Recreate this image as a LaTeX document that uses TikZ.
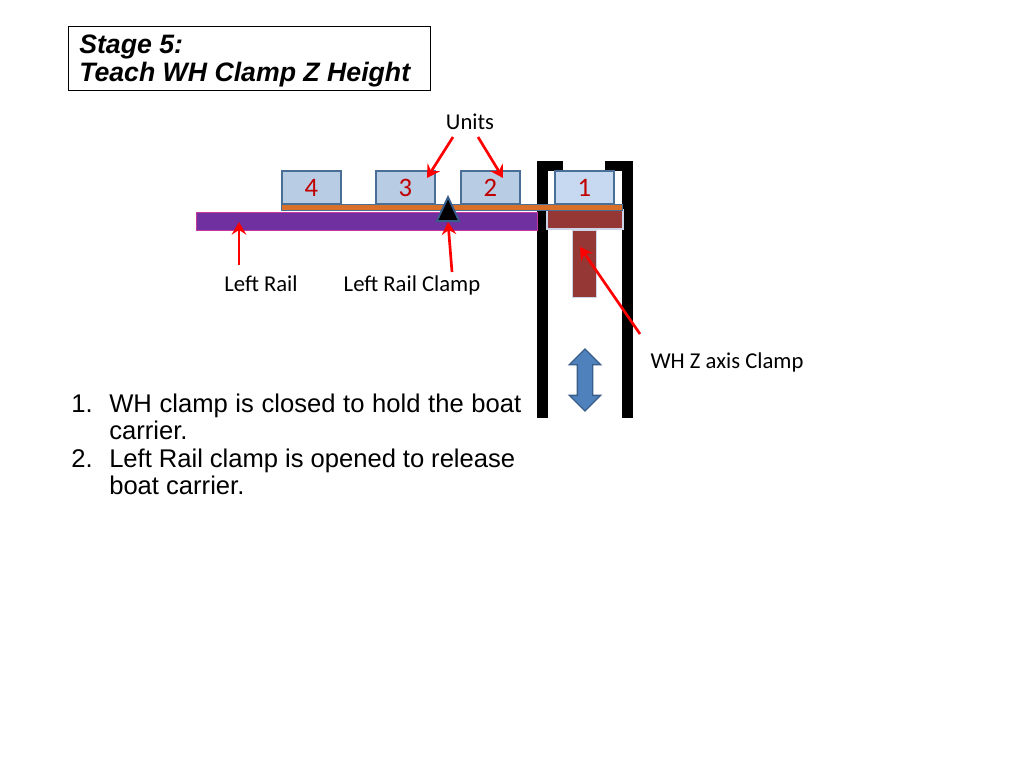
\documentclass[tikz,border=0pt]{standalone}
\usepackage{xcolor}
\usepackage{fontspec}
\setmainfont{Liberation Sans}
\newfontfamily\labelfont{Carlito}
\usepackage{tikz}
\usetikzlibrary{arrows.meta,positioning,shapes.geometric,shapes.arrows}
\definecolor{unitedge}{HTML}{4A6F96}
\definecolor{unitfill}{HTML}{B8CCE4}
\definecolor{unitfree}{HTML}{C6D9F1}
\definecolor{unittext}{HTML}{C00000}
\definecolor{railfill}{HTML}{7030A0}
\definecolor{railedge}{HTML}{C63AA0}
\definecolor{carrier}{HTML}{D9702A}
\definecolor{clampfill}{HTML}{953735}
\definecolor{clampedge}{HTML}{CCD5E8}
\definecolor{updown}{HTML}{4F81BD}
\definecolor{updownedge}{HTML}{385D8A}
\newcommand{\fitline}[2]{\makebox[#1][s]{#2}}
\newcommand{\stepnum}[1]{\makebox[28.5pt][l]{#1}}
\tikzset{
  titlebox/.style={draw=black, fill=white, line width=0.7pt, minimum width=272pt, minimum height=48.5pt, inner sep=0pt},
  unit/.style={draw=unitedge, fill=unitfill, line width=1.4pt, minimum width=44pt, minimum height=25pt, inner sep=0pt, text=unittext, font=\labelfont\fontsize{20}{24}\selectfont},
  tag/.style={font=\labelfont\fontsize{17}{20}\selectfont, inner sep=0pt, anchor=base},
  liststep/.style={align=left, anchor=north west, inner sep=0pt, font=\fontsize{19.2}{20.6}\selectfont},
  redarrow/.style={-{Stealth[length=9.5pt,width=11pt,inset=3.5pt]}, red, line width=2pt},
  post/.style={draw=black, line width=8pt}
}
\begin{document}
\begin{tikzpicture}[x=0.75pt,y=-0.75pt]
  \useasboundingbox (0,0) rectangle (1024,768);

  \node[titlebox] (title) at (249.5,58.5) {};
  \node[anchor=west, align=left, inner sep=0pt, font=\fontsize{20}{21}\selectfont\bfseries\itshape] (titletext) at (79,60.5) {Stage 5:\\Teach WH Clamp Z Height};

  % posts
  \draw[post] (563,166) -- (542.5,166) -- (542.5,418);
  \draw[post] (605,166) -- (627.5,166) -- (627.5,418);

  % rail, clamp
  \node[draw=railedge, fill=railfill, line width=1.2pt, minimum width=256pt, minimum height=13.5pt, inner sep=0pt] (leftrail) at (367,221.5) {};
  \node[draw=clampedge, fill=clampfill, line width=1.2pt, minimum width=57pt, minimum height=14.5pt, inner sep=0pt] (wzhead) at (585,219.5) {};
  \node[draw=clampedge, fill=clampfill, line width=1.2pt, minimum width=18pt, minimum height=50pt, inner sep=0pt] (wzstem) at (584.5,264) {};

  % units
  \node[unit] (u4) at (311.5,187.5) {4};
  \node[unit] (u3) at (405.5,187.5) {3};
  \node[unit] (u2) at (490.5,187.5) {2};
  \node[unit, fill=unitfree] (u1) at (584.5,187.5) {1};
  \node[draw=unitedge, fill=carrier, line width=0.9pt, minimum width=256pt, minimum height=4pt, inner sep=0pt] (boat) at (452,207.5) {};

  \node[isosceles triangle, isosceles triangle apex angle=50, shape border rotate=90, draw=updownedge, fill=black, line width=1.4pt, minimum height=18pt, minimum width=15pt, inner sep=0pt] (railclamp) at (448,214) {};

  \node[double arrow, draw=updownedge, fill=updown, line width=1pt, rotate=90, minimum height=46.5pt, double arrow head extend=6pt, inner sep=0pt] (zmove) at (585,380) {\rule{0pt}{10.5pt}};

  % labels
  \node[tag] (units) at (470,129) {Units};
  \node[tag] (railtag) at (261,291) {Left Rail};
  \node[tag] (clamptag) at (412,291) {Left Rail Clamp};
  \node[tag] (ztag) at (727,368) {WH Z axis Clamp};

  \coordinate (hit3) at (427,178);
  \coordinate (hit2) at (503,178);
  \coordinate (hitrail) at (239,222);
  \coordinate (hitclamp) at (448,222);
  \coordinate (hitz) at (580,247);
  \draw[redarrow] (453,137) -- (hit3);
  \draw[redarrow] (478,137) -- (hit2);
  \draw[redarrow] (239,265) -- (hitrail);
  \draw[redarrow] (452,272) -- (hitclamp);
  \draw[redarrow] (640,334) -- (hitz);

  \node[liststep] (steps) at (71,393.5) {\stepnum{1.}\fitline{309pt}{WH clamp is closed to hold the boat}\\\hspace*{28.5pt}carrier.\\\stepnum{2.}\fitline{304.5pt}{Left Rail clamp is opened to release}\\\hspace*{28.5pt}boat carrier.};
\end{tikzpicture}
\end{document}
